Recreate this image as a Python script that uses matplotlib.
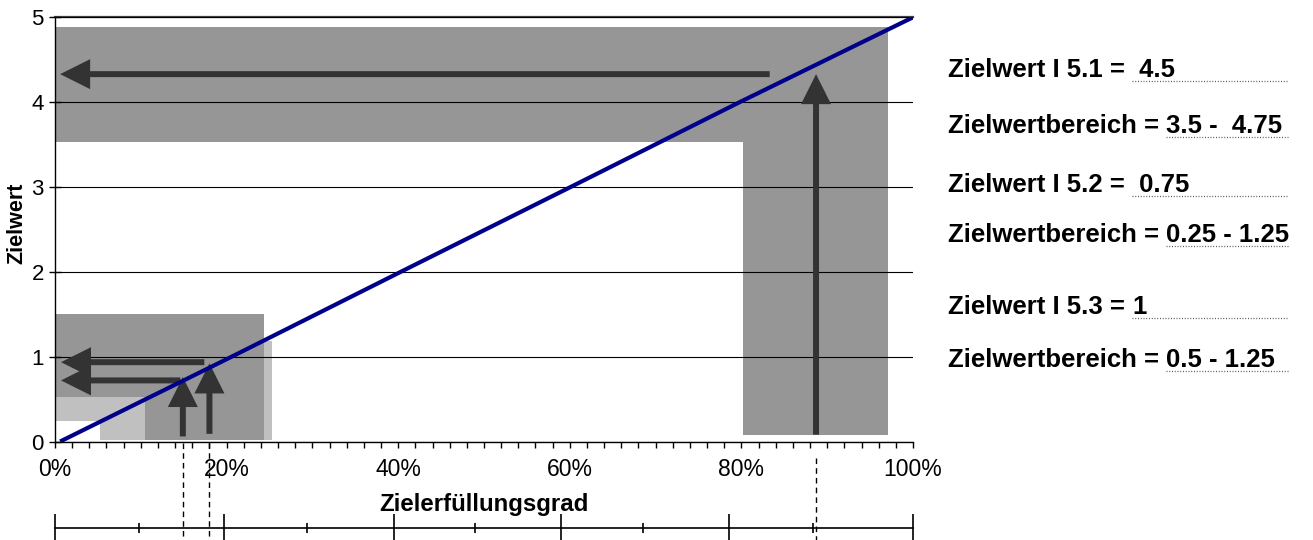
import matplotlib
matplotlib.use("Agg")
import matplotlib.pyplot as plt

plt.rcParams['font.family'] = ['Liberation Sans', 'DejaVu Sans']

# x axis: Zielerfuellungsgrad in percent, y axis: Zielwert
pct_ticks = [0, 20, 40, 60, 80, 100]
pct_labels = ["0%", "20%", "40%", "60%", "80%", "100%"]
y_ticks = [0, 1, 2, 3, 4, 5]

# conversion line
line_x = [0.6, 20.6, 40.3, 60.1, 79.8, 100]
line_y = [0, 1, 2, 3, 4, 5]

# shaded bands: (x from, x to, y from, y to)
bands_light = [(0, 25.3, 0.24, 1.19), (5.2, 25.3, 0.02, 1.19)]
bands_dark = [(0, 24.4, 0.52, 1.50), (10.5, 24.4, 0.02, 1.50),
              (0, 97.1, 3.53, 4.89), (80.2, 97.1, 0.08, 4.89)]

# arrows pointing up: x, y start, y tip
up_x = [14.9, 18.0, 88.7]
up_from = [0.06, 0.09, 0.08]
up_to = [0.76, 0.92, 4.33]

# arrows pointing left: y, x start, x tip
left_y = [0.72, 0.935, 4.33]
left_from = [14.6, 17.4, 83.3]
left_to = [0.7, 0.7, 0.6]

# second scale under the chart
scale_major = [0, 19.7, 39.5, 59.0, 78.6, 100]
scale_minor = [9.8, 29.4, 48.9, 68.5, 88.4]

# texts on the right
text_prefix = ["Zielwert I 5.1 = ", "Zielwertbereich = ",
               "Zielwert I 5.2 = ", "Zielwertbereich = ",
               "Zielwert I 5.3 = ", "Zielwertbereich = "]
text_value = [" 4.5", "3.5 -  4.75", " 0.75", "0.25 - 1.25", "1", "0.5 - 1.25"]
text_baseline_px = [77, 133, 192, 242, 314, 367]

W, H = 1313, 540
fig = plt.figure(figsize=(W / 100, H / 100), dpi=100)
ax = fig.add_axes([55 / W, 1 - 441.5 / H, 858 / W, 424.2 / H])

LIGHT = '#c0c0c0'
DARK = '#969696'
ARROW = '#333333'

for x0, x1, y0, y1 in bands_light:
    ax.fill_between([x0, x1], y0, y1, color=LIGHT, lw=0, zorder=1)
for x0, x1, y0, y1 in bands_dark:
    ax.fill_between([x0, x1], y0, y1, color=DARK, lw=0, zorder=1.5)

ax.set_xlim(0, 100)
ax.set_ylim(0, 5)
ax.set_yticks(y_ticks)
ax.set_xticks(pct_ticks)
ax.set_xticklabels(pct_labels)
ax.set_xticks(range(0, 101, 2), minor=True)
ax.grid(axis='y', color='black', lw=0.8, zorder=2)
ax.set_axisbelow(False)

ax.tick_params(axis='x', which='both', direction='out', length=4, width=1,
               labelsize=16.5, pad=8, colors='black')
ax.tick_params(axis='y', which='major', direction='inout', length=8, width=1,
               labelsize=16, pad=4)

ax.spines['right'].set_visible(False)
ax.spines['top'].set_color('#404040')
ax.spines['top'].set_linewidth(1.6)
for s in ('left', 'bottom'):
    ax.spines[s].set_color('black')
    ax.spines[s].set_linewidth(1)

arrow_kw = dict(width=4.3, headwidth=21.6, headlength=21.6,
                facecolor=ARROW, edgecolor='none', lw=0)
for x, y0, y1 in zip(up_x, up_from, up_to):
    ax.annotate("", xy=(x, y1), xytext=(x, y0), arrowprops=arrow_kw, zorder=3)
for y, x0, x1 in zip(left_y, left_from, left_to):
    ax.annotate("", xy=(x1, y), xytext=(x0, y), arrowprops=arrow_kw, zorder=3)

ax.plot(line_x, line_y, color='#00008b', lw=3, zorder=4, solid_capstyle='butt')

# dashed guide lines below the axis
for x in up_x:
    y_top = -0.2 if x > 50 else -0.02
    ax.plot([x, x], [y_top, -1.2], color='black', lw=1, ls=(0, (4, 3)),
            clip_on=False)

# second scale
yb = -1.02
ax.plot([0, 100], [yb, yb], color='black', lw=1.2, clip_on=False)
ax.vlines(scale_major, yb - 0.17, yb + 0.17, color='black', lw=1.2, clip_on=False)
ax.vlines(scale_minor, yb - 0.06, yb + 0.06, color='black', lw=1.2, clip_on=False)

ax.set_xlabel("Zielerfüllungsgrad", fontsize=17.3, fontweight='bold')
ax.xaxis.label.set_va('center')
ax.xaxis.set_label_coords(0.5, (441.5 - 504) / 424.2)
ax.set_ylabel("Zielwert", fontsize=15.5, fontweight='bold')
ax.yaxis.label.set_va('center')
ax.yaxis.set_label_coords((17 - 55) / 858, (441.5 - 223) / 424.2)

# right-hand texts with dotted fill lines
renderer = fig.canvas.get_renderer()
x_text = 948 / W
x_end = 1288 / W
for pre, val, b in zip(text_prefix, text_value, text_baseline_px):
    yb_fig = 1 - b / H
    t = fig.text(x_text, yb_fig, pre, fontsize=18.5, fontweight='bold', va='baseline')
    bb = t.get_window_extent(renderer)
    x_val = bb.x1 / W
    fig.text(x_val, yb_fig, val, fontsize=18.5, fontweight='bold', va='baseline')
    y_dot = 1 - (b + 4) / H
    fig.add_artist(plt.Line2D([x_val, x_end], [y_dot, y_dot], color='#555555',
                              lw=0.9, ls=(0, (0.8, 1.4))))

fig.savefig("out.png", dpi=100)
